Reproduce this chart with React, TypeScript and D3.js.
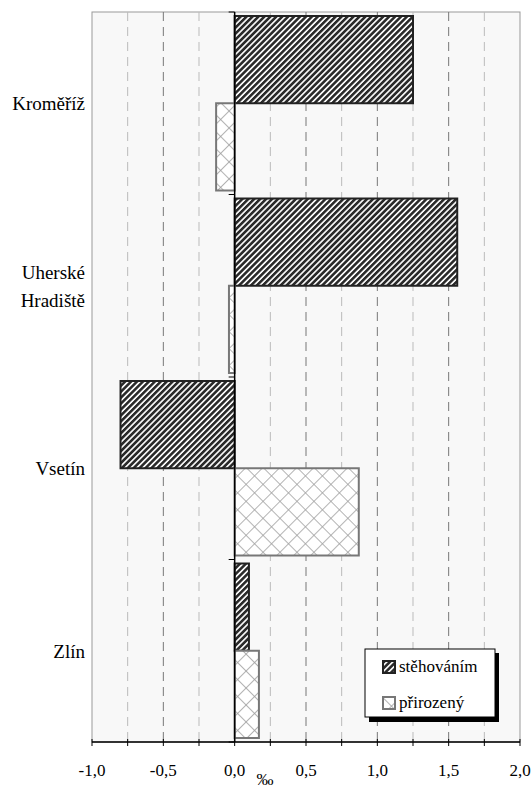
import * as d3 from "d3";

const regions = ["Kroměříž", "Uherské Hradiště", "Vsetín", "Zlín"];
const series = ["stěhováním", "přirozený"];
const migration = [1.25, 1.56, -0.8, 0.1];
const natural = [-0.13, -0.04, 0.87, 0.17];
const tickValues = [-1, -0.5, 0, 0.5, 1, 1.5, 2];

const width = 531;
const height = 789;
const margin = { top: 12, right: 11, bottom: 47, left: 92 };
const serifStyle = { fontFamily: "'Liberation Serif', 'Times New Roman', serif" };

export default function App() {
  const x = d3.scaleLinear().domain([-1, 2]).range([margin.left, width - margin.right]);
  const y = d3.scaleBand<string>().domain(regions).range([margin.top, height - margin.bottom]);
  const ySub = d3.scaleBand<string>().domain(series).range([4, y.bandwidth() - 4]);

  const minorTicks = d3.range(-1, 2.001, 0.25);
  const plotTop = margin.top;
  const plotBottom = height - margin.bottom;
  const fmt = (v: number) => d3.format(".1f")(v).replace(".", ",").replace("−", "-");

  const rows = regions.map((r, i) => ({ region: r, values: [migration[i], natural[i]] }));

  return (
    <svg width={width} height={height} style={{ position: "absolute", left: 0, top: 0, ...serifStyle }}>
      <defs>
        <pattern id="stripes" width="4.2" height="4.2" patternUnits="userSpaceOnUse" patternTransform="rotate(45)">
          <rect width="4.2" height="4.2" fill="#fff" />
          <rect width="2.6" height="4.2" fill="#2a2a2a" />
        </pattern>
        <pattern id="cross" width="12" height="12" patternUnits="userSpaceOnUse" patternTransform="rotate(45)">
          <rect width="12" height="12" fill="#fff" />
          <line x1="0" y1="0" x2="12" y2="0" stroke="#a0a0a0" strokeWidth="1.6" />
          <line x1="0" y1="0" x2="0" y2="12" stroke="#a0a0a0" strokeWidth="1.6" />
        </pattern>
      </defs>

      <rect
        x={x(-1)}
        y={plotTop}
        width={x(2) - x(-1)}
        height={plotBottom - plotTop}
        fill="#f8f8f8"
        stroke="#999"
        strokeWidth={1}
      />

      {minorTicks.filter((v) => Math.abs(v) > 1e-6 && v > -0.99 && v < 1.99).map((v, i) => (
        <line
          key={"g" + i}
          x1={x(v)}
          x2={x(v)}
          y1={plotTop}
          y2={plotBottom}
          stroke={Math.abs((v * 2) % 1) < 1e-6 ? "#777" : "#bbb"}
          strokeWidth={1}
          strokeDasharray="9,6"
        />
      ))}

      {rows.map((row) =>
        row.values.map((v, j) => {
          const y0 = (y(row.region) ?? 0) + (ySub(series[j]) ?? 0);
          return (
            <rect
              key={row.region + j}
              x={x(Math.min(0, v))}
              y={y0}
              width={Math.abs(x(v) - x(0))}
              height={ySub.bandwidth()}
              fill={j === 0 ? "url(#stripes)" : "url(#cross)"}
              stroke={j === 0 ? "#222" : "#777"}
              strokeWidth={2}
            />
          );
        })
      )}

      {/* zero axis with category ticks */}
      <line x1={x(0)} x2={x(0)} y1={plotTop} y2={plotBottom} stroke="#000" strokeWidth={1.5} />
      {d3.range(regions.length + 1).map((i) => {
        const yy = plotTop + i * y.step();
        return <line key={"ct" + i} x1={x(0) - 6} x2={x(0)} y1={yy} y2={yy} stroke="#000" strokeWidth={1} />;
      })}

      {/* x axis */}
      <line x1={x(-1)} x2={x(2)} y1={plotBottom} y2={plotBottom} stroke="#000" strokeWidth={1.5} />
      {minorTicks.map((v, i) => (
        <line key={"t" + i} x1={x(v)} x2={x(v)} y1={plotBottom - 3} y2={plotBottom + 4} stroke="#000" strokeWidth={1} />
      ))}
      {tickValues.map((v) => (
        <text key={"l" + v} x={x(v)} y={plotBottom + 34} textAnchor="middle" style={serifStyle} fontSize={17} fill="#000">
          {fmt(v)}
        </text>
      ))}
      <text x={265} y={785} textAnchor="middle" style={serifStyle} fontSize={17} fill="#000">
        ‰
      </text>

      {regions.map((r) => {
        const cy = (y(r) ?? 0) + y.bandwidth() / 2;
        const parts = r.split(" ");
        return (
          <text key={r} x={85} textAnchor="end" style={serifStyle} fontSize={19} fill="#000">
            {parts.map((p, k) => (
              <tspan key={k} x={85} y={cy + 7 + (k - (parts.length - 1) / 2) * 28}>
                {p}
              </tspan>
            ))}
          </text>
        );
      })}

      {/* legend */}
      <g>
        <rect x={369} y={653} width={130} height={69} fill="#000" />
        <rect x={365} y={649} width={130} height={68} fill="#fff" stroke="#000" strokeWidth={1} />
        {series.map((s, i) => (
          <g key={s} transform={`translate(383, ${661 + i * 36})`}>
            <rect width={12} height={12} fill={i === 0 ? "url(#stripes)" : "url(#cross)"} stroke={i === 0 ? "#222" : "#777"} strokeWidth={2} />
            <text x={16} y={11} style={serifStyle} fontSize={17} fill="#000">
              {s}
            </text>
          </g>
        ))}
      </g>
    </svg>
  );
}
